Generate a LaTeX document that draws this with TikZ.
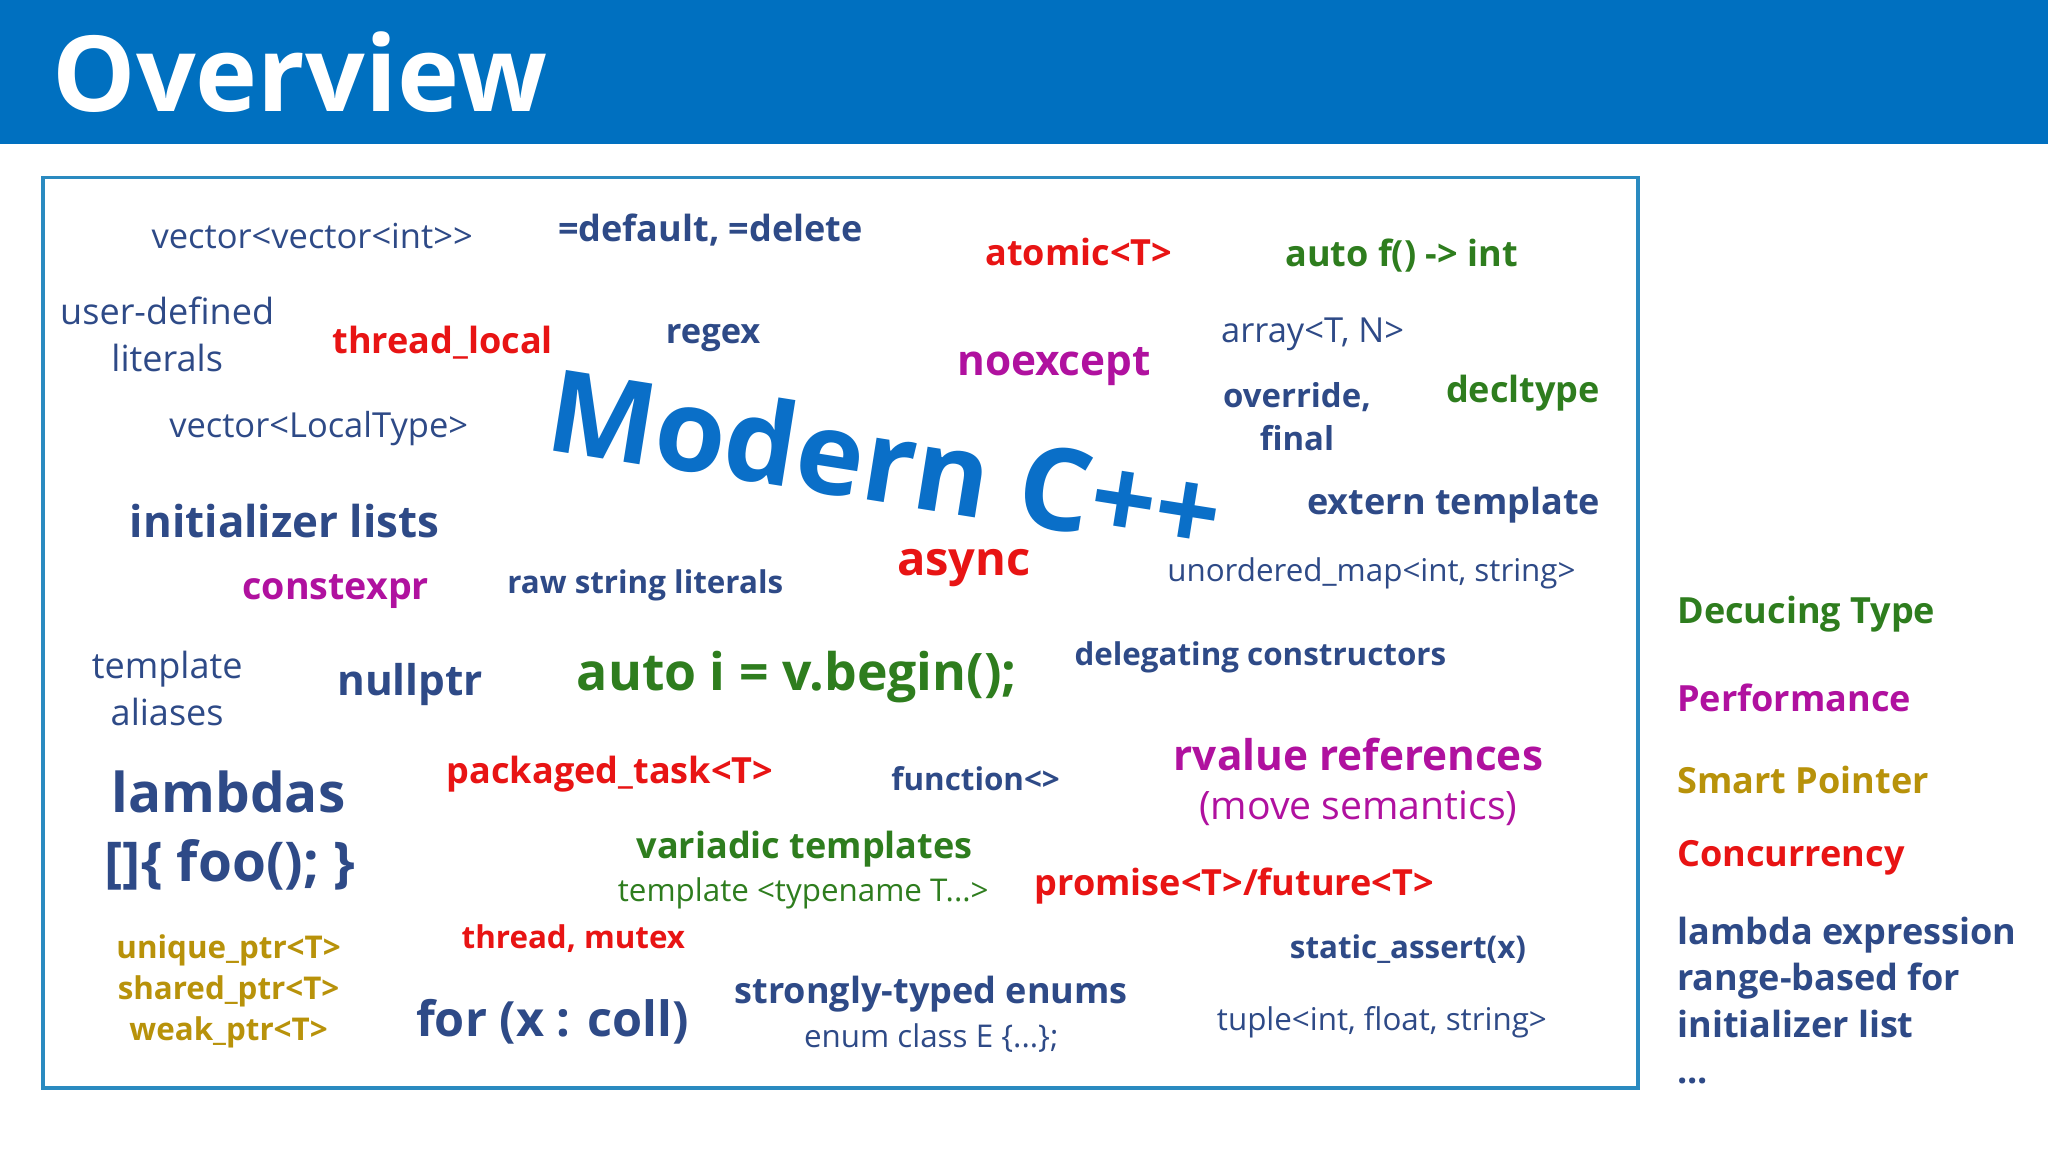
\documentclass[tikz,border=0pt]{standalone}
\usepackage{fontspec}
\setmainfont{Open Sans}
\definecolor{hdr}{HTML}{0070C0}
\definecolor{frm}{HTML}{2A8AC0}
\definecolor{nv}{HTML}{2E4A87}
\definecolor{rd}{HTML}{E81414}
\definecolor{gr}{HTML}{2E7D1E}
\definecolor{mg}{HTML}{B0119F}
\definecolor{gd}{HTML}{B8920A}
\definecolor{mb}{HTML}{0A6FC8}
\newcommand{\fs}[1]{\fontsize{\dimexpr #1pt*6/5\relax}{\dimexpr #1pt*39/25\relax}\selectfont}
\tikzset{t/.style={inner sep=0pt,align=center,font=\fs{#1}},
 b/.style={inner sep=0pt,align=center,font=\bfseries\fs{#1}},
 l/.style={inner sep=0pt,anchor=west,align=left,font=\bfseries\fs{#1}}}
\begin{document}
\begin{tikzpicture}[x=1pt,y=-1pt]
\useasboundingbox (0,0) rectangle (1568,882);
\fill[white] (0,0) rectangle (1568,882);
\fill[hdr] (0,0) rectangle (1568,110);
\node[b=67,white,anchor=west] (title) at (40,55) {Overview};
\draw[frm,line width=2.5pt] (33,136) rectangle (1254,833);
\node[t=22,nv] (a1) at (239,181) {vector<vector<int>{}>};
\node[b=23,nv] (a2) at (544,176) {=default, =delete};
\node[b=23,rd] (a3) at (826,193) {atomic<T>};
\node[b=23,gr] (a4) at (1073,196) {auto f() -> int};
\node[t=23,nv] (a5) at (128,256) {user-defined\\literals};
\node[b=23,rd] (a6) at (339,262) {thread\_local};
\node[b=22,nv] (a7) at (546,259) {regex};
\node[b=27,mg] (a8) at (807,281) {noexcept};
\node[t=22,nv] (a9) at (1005,256) {array<T, N>};
\node[b=21,nv] (a10) at (993,319) {override,\\final};
\node[b=23,gr] (a11) at (1166,301) {decltype};
\node[t=22,nv] (a12) at (244,328) {vector<LocalType>};
\node[b=73,mb,rotate=-9] (mc) at (678,352) {Modern C++};
\node[b=28,nv] (a13) at (218,399) {initializer lists};
\node[b=23,nv] (a14) at (1113,387) {extern template};
\node[b=24,mg] (a15) at (257,453) {constexpr};
\node[b=20,nv] (a16) at (494,448) {raw string literals};
\node[b=30,rd] (a17) at (738,435) {async};
\node[t=20,nv] (a18) at (1050,439) {unordered\_map<int, string>};
\node[t=23,nv] (a19) at (128,527) {template\\aliases};
\node[b=27,nv] (a20) at (314,524) {nullptr};
\node[b=33,gr] (a21) at (610,518) {auto i = v.begin();};
\node[b=20,nv] (a22) at (965,503) {delegating constructors};
\node[b=35,nv] (a23) at (175,606) {lambdas};
\node[b=35,nv] (a24) at (176,662) {[]\{ foo(); \}};
\node[b=23,rd] (a25) at (467,593) {packaged\_task<T>};
\node[b=20,nv] (a26) at (747,596) {function<>};
\node[b=27,mg] (a27) at (1040,578) {rvalue references};
\node[t=25,mg] (a28) at (1040,619) {(move semantics)};
\node[b=23,gr] (a29) at (616,650) {variadic templates};
\node[t=20,gr] (a30) at (615,684) {template <typename T...>};
\node[b=23,rd] (a31) at (945,678) {promise<T>/future<T>};
\node[inner sep=0pt,align=center,font=\bfseries\fontsize{24}{31.5}\selectfont,gd] (a32) at (175,759) {unique\_ptr<T>\\shared\_ptr<T>\\weak\_ptr<T>};
\node[b=20,rd] (a33) at (439,719) {thread, mutex};
\node[b=31,nv] (a34) at (423,782) {for (x : coll)};
\node[b=23,nv] (a35) at (713,761) {strongly-typed enums};
\node[t=20,nv] (a36) at (713,795) {enum class E \{...\};};
\node[b=20,nv] (a37) at (1078,727) {static\_assert(x)};
\node[t=20,nv] (a38) at (1058,783) {tuple<int, float, string>};
\node[l=23,gr] (g1) at (1284,470) {Decucing Type};
\node[l=23,mg] (g2) at (1284,534) {Performance};
\node[l=23,gd] (g3) at (1284,597) {Smart Pointer};
\node[l=23,rd] (g4) at (1284,657) {Concurrency};
\node[inner sep=0pt,align=left,font=\bfseries\fontsize{27.6}{35.5}\selectfont,nv,anchor=north west] (g5) at (1284,702) {lambda expression\\range-based for\\initializer list\\...};
\end{tikzpicture}
\end{document}
